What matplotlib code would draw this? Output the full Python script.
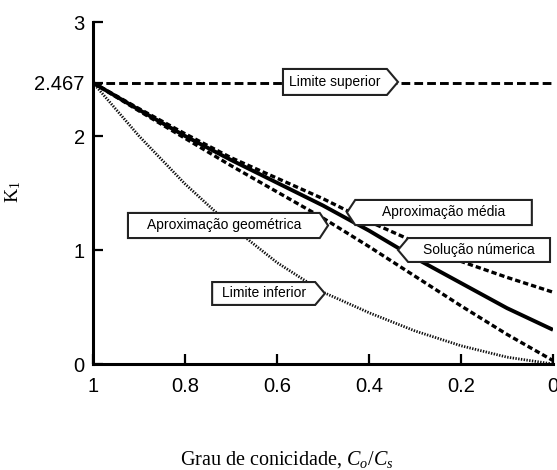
import matplotlib
matplotlib.use("Agg")
import matplotlib.pyplot as plt
from matplotlib.patches import Polygon

# ---- data ----
x_vals = [1.0, 0.9, 0.8, 0.7, 0.6, 0.5, 0.4, 0.3, 0.2, 0.1, 0.0]
limite_superior = [2.467] * 11
solucao_numerica = [2.467, 2.23, 2.00, 1.79, 1.59, 1.39, 1.17, 0.93, 0.71, 0.49, 0.30]
aprox_media = [2.467, 2.24, 2.02, 1.81, 1.63, 1.45, 1.25, 1.07, 0.90, 0.76, 0.63]
aprox_geometrica = [2.467, 2.22, 1.98, 1.74, 1.51, 1.28, 1.03, 0.77, 0.51, 0.26, 0.03]
limite_inferior = [2.467, 2.00, 1.58, 1.21, 0.89, 0.63, 0.45, 0.29, 0.16, 0.06, 0.0]

x_ticks = [1, 0.8, 0.6, 0.4, 0.2, 0]
x_ticklabels = ["1", "0.8", "0.6", "0.4", "0.2", "0"]
y_ticks = [0, 1, 2, 2.467, 3]
y_ticklabels = ["0", "1", "2", "2.467", "3"]

sans = ["Liberation Sans", "DejaVu Sans"]
plt.rcParams["mathtext.fontset"] = "custom"
plt.rcParams["mathtext.rm"] = "Liberation Serif"
plt.rcParams["mathtext.it"] = "Liberation Serif:italic"

fig = plt.figure(figsize=(5.57, 4.70), dpi=100)
ax = fig.add_axes([93 / 557, (470 - 364) / 470, (553 - 93) / 557, (364 - 22) / 470])

ax.plot(x_vals, limite_superior, color="black", lw=2.1, linestyle=(0, (3.0, 1.4)), zorder=2)
ax.plot(x_vals, solucao_numerica, color="black", lw=2.8, solid_capstyle="butt", zorder=3)
ax.plot(x_vals, aprox_media, color="black", lw=2.4, linestyle=(0, (1.6, 0.9)), zorder=2)
ax.plot(x_vals, aprox_geometrica, color="black", lw=2.4, linestyle=(0, (1.6, 0.9)), zorder=2)
ax.plot(x_vals, limite_inferior, color="#111111", lw=2.0, linestyle=(0, (0.5, 0.5)), zorder=2)

ax.set_xlim(1, 0)
ax.set_ylim(0, 3)
ax.set_xticks(x_ticks)
ax.set_xticklabels(x_ticklabels, fontfamily=sans, fontsize=14.5)
ax.set_yticks(y_ticks)
ax.set_yticklabels(y_ticklabels, fontfamily=sans, fontsize=14.5)
ax.tick_params(axis="both", direction="in", length=7, width=1.6, colors="black")
ax.tick_params(axis="x", pad=9)
ax.tick_params(axis="y", pad=6)
for side in ["top", "right"]:
    ax.spines[side].set_visible(False)
for side in ["left", "bottom"]:
    ax.spines[side].set_linewidth(2.2)

ax.set_ylabel(r"$\mathrm{K}_1$", fontsize=14)
ax.yaxis.set_label_coords((23 - 93) / 460, (364 - 192) / 342)
fig.text(287 / 557, (470 - 460) / 470, r"Grau de conicidade, $C_o/C_s$",
         fontfamily="Liberation Serif", fontsize=14.5, ha="center", va="center")


def callout(text, x_left, x_right, tip_x, y_bot, y_top, side):
    ym = (y_bot + y_top) / 2
    if side == "right":
        pts = [(x_left, y_top), (x_right, y_top), (tip_x, ym), (x_right, y_bot), (x_left, y_bot)]
    else:
        pts = [(tip_x, ym), (x_left, y_top), (x_right, y_top), (x_right, y_bot), (x_left, y_bot)]
    poly = Polygon(pts, closed=True, facecolor="white", edgecolor="#222222", lw=1.5,
                   zorder=5, clip_on=False)
    ax.add_patch(poly)
    ax.text((x_left + x_right) / 2, ym, text, ha="center", va="center",
            fontfamily=sans, fontsize=10, zorder=6)


callout("Limite superior", 0.587, 0.361, 0.337, 2.36, 2.588, "right")
callout("Aproximação geométrica", 0.924, 0.507, 0.489, 1.105, 1.325, "right")
callout("Aproximação média", 0.430, 0.046, 0.448, 1.219, 1.439, "left")
callout("Solução númerica", 0.315, 0.0065, 0.337, 0.895, 1.105, "left")
callout("Limite inferior", 0.741, 0.517, 0.496, 0.518, 0.719, "right")

fig.savefig("out.png", dpi=100)
